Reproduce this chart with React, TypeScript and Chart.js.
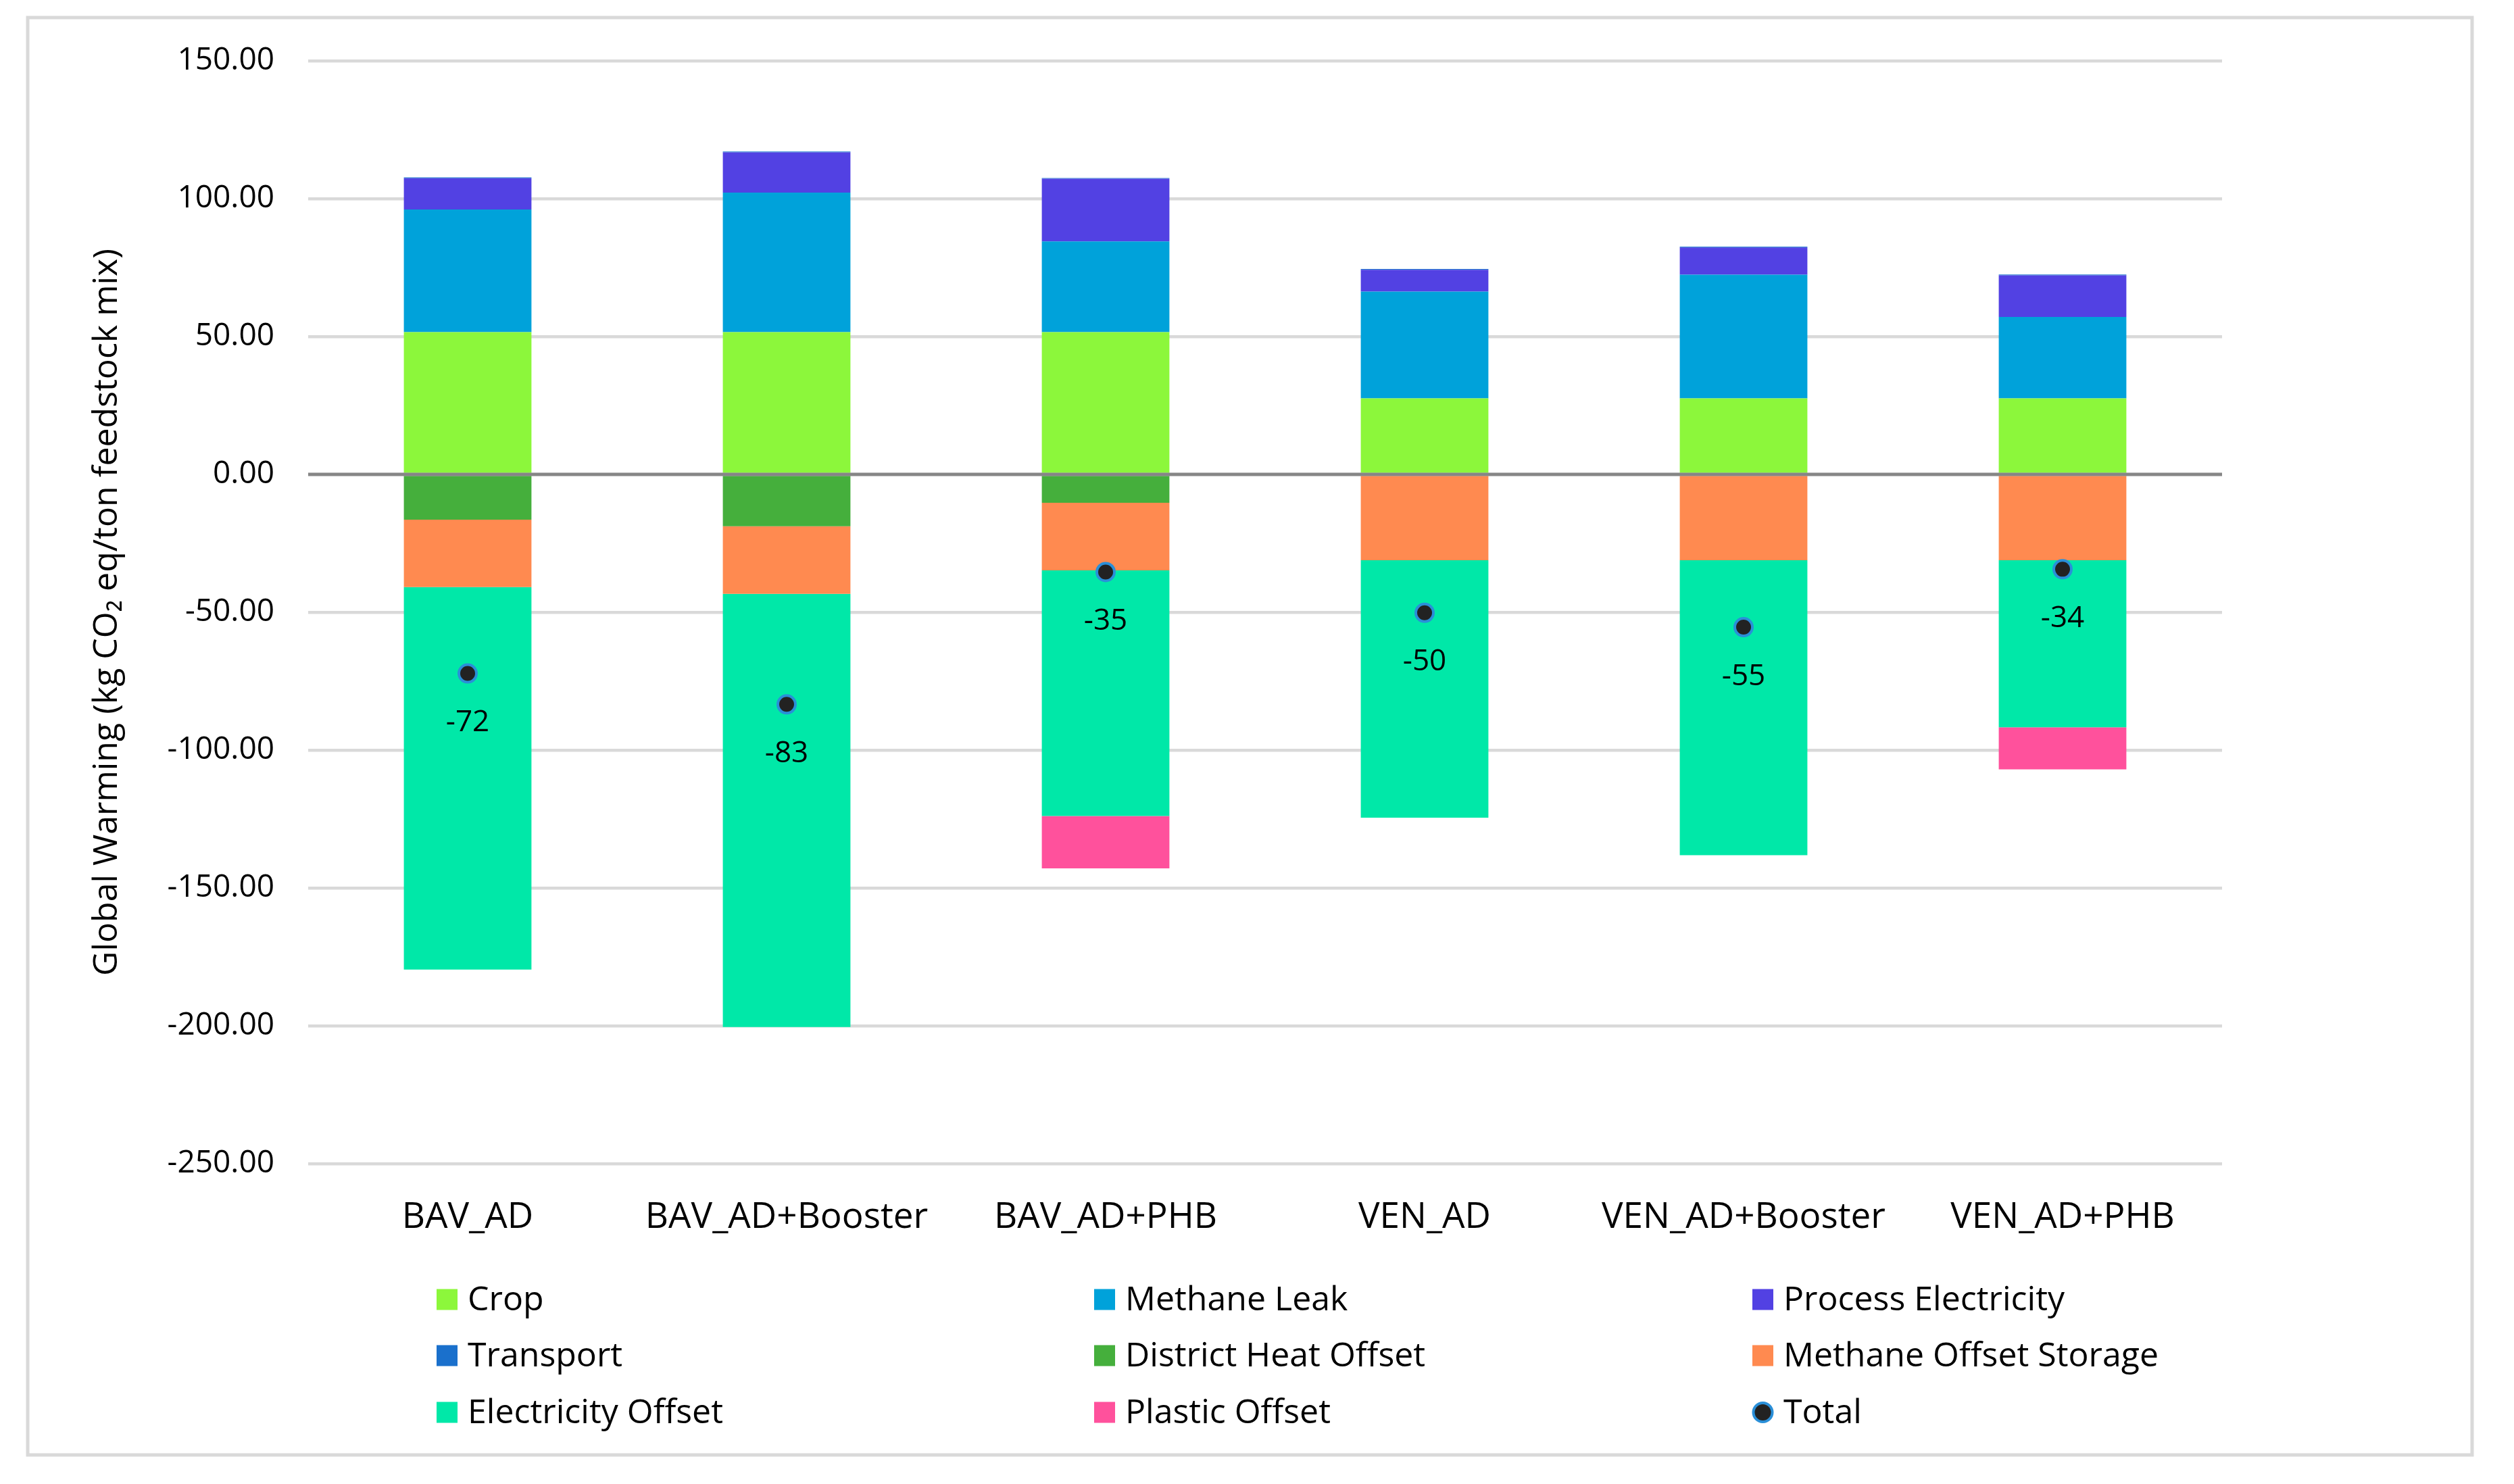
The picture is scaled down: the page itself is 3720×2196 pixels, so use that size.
import { useEffect, useRef } from "react";
import { Chart, registerables } from "chart.js";

Chart.register(...registerables);

const categories = ["BAV_AD", "BAV_AD+Booster", "BAV_AD+PHB", "VEN_AD", "VEN_AD+Booster", "VEN_AD+PHB"];
const crop = [51.6, 51.6, 51.6, 27.6, 27.6, 27.6];
const methaneLeak = [44.5, 50.6, 32.9, 38.7, 44.8, 29.5];
const processElectricity = [11.3, 14.6, 22.7, 7.9, 9.9, 15.1];
const transport = [0.3, 0.3, 0.3, 0.3, 0.3, 0.3];
const districtHeatOffset = [-16.4, -18.8, -10.3, 0, 0, 0];
const methaneOffsetStorage = [-24.5, -24.5, -24.5, -31.1, -31.1, -31.1];
const electricityOffset = [-138.7, -157.1, -89.1, -93.4, -107.0, -60.6];
const plasticOffset = [0, 0, -19.0, 0, 0, -15.3];
const total = [-72.2, -83.4, -35.4, -50.2, -55.4, -34.4];

const yMin = -250;
const yMax = 150;
const yStep = 50;
const yTitle = "Global Warming (kg CO\u2082 eq/ton feedstock mix)";

const FONT = "'Open Sans', 'Noto Sans', 'DejaVu Sans', sans-serif";
const W = 3720;
const H = 2196;

const framePlugin = {
  id: "frame",
  beforeDraw(chart: any) {
    const c = chart.ctx;
    c.save();
    c.fillStyle = "#ffffff";
    c.fillRect(0, 0, chart.width, chart.height);
    c.strokeStyle = "#D9D9D9";
    c.lineWidth = 5;
    c.strokeRect(41, 26, 3617, 2127);
    c.restore();
  },
};

const zeroLinePlugin = {
  id: "zeroLine",
  afterDatasetsDraw(chart: any) {
    const c = chart.ctx;
    const y = chart.scales.y.getPixelForValue(0);
    const { left, right } = chart.chartArea;
    c.save();
    c.strokeStyle = "#868686";
    c.lineWidth = 5;
    c.beginPath();
    c.moveTo(left, y);
    c.lineTo(right, y);
    c.stroke();
    c.restore();
  },
};

const totalLabelPlugin = {
  id: "totalLabels",
  afterDatasetsDraw(chart: any) {
    const idx = chart.data.datasets.findIndex((d: any) => d.label === "Total");
    const meta = chart.getDatasetMeta(idx);
    const c = chart.ctx;
    c.save();
    c.font = `44px ${FONT}`;
    c.fillStyle = "#000000";
    c.textAlign = "center";
    c.textBaseline = "middle";
    meta.data.forEach((el: any, i: number) => {
      const v = chart.data.datasets[idx].data[i];
      c.fillText(Number(v).toFixed(0), el.x, el.y + 73);
    });
    c.restore();
  },
};

const legendPlugin = {
  id: "gridLegend",
  afterDraw(chart: any) {
    const c = chart.ctx;
    const cols = [646, 1619, 2593];
    const rows = [1923, 2006, 2090];
    const box = 31;
    c.save();
    c.font = `50px ${FONT}`;
    c.textBaseline = "middle";
    c.textAlign = "left";
    chart.data.datasets.forEach((ds: any, i: number) => {
      const x = cols[i % 3];
      const y = rows[Math.floor(i / 3)];
      if (ds.type === "line") {
        c.beginPath();
        c.arc(x + box / 2, y, 14, 0, Math.PI * 2);
        c.fillStyle = ds.pointBackgroundColor;
        c.fill();
        c.lineWidth = 4;
        c.strokeStyle = ds.pointBorderColor;
        c.stroke();
      } else {
        c.fillStyle = ds.backgroundColor;
        c.fillRect(x, y - box / 2, box, box);
      }
      c.fillStyle = "#000000";
      c.fillText(ds.label, x + box + 15, y + 2);
    });
    c.restore();
  },
};

export default function App() {
  const ref = useRef<HTMLCanvasElement | null>(null);

  useEffect(() => {
    if (!ref.current) return;
    Chart.defaults.font.family = FONT;
    const bar = (label: string, data: number[], color: string) => ({
      type: "bar" as const,
      label,
      data,
      backgroundColor: color,
      borderWidth: 0,
      stack: "parts",
      order: 1,
      categoryPercentage: 0.5,
      barPercentage: 0.8,
    });
    const chart = new Chart(ref.current, {
      type: "bar",
      data: {
        labels: categories,
        datasets: [
          bar("Crop", crop, "#8CF73B"),
          bar("Methane Leak", methaneLeak, "#00A2DA"),
          bar("Process Electricity", processElectricity, "#5241E3"),
          bar("Transport", transport, "#1A70CC"),
          bar("District Heat Offset", districtHeatOffset, "#45AF3C"),
          bar("Methane Offset Storage", methaneOffsetStorage, "#FF8A50"),
          bar("Electricity Offset", electricityOffset, "#00E8A8"),
          bar("Plastic Offset", plasticOffset, "#FF519C"),
          {
            type: "line" as const,
            label: "Total",
            data: total,
            showLine: false,
            stack: "total",
            order: 0,
            pointRadius: 13,
            pointBorderWidth: 4,
            pointBackgroundColor: "#222222",
            pointBorderColor: "#2A8FD8",
            backgroundColor: "#222222",
            borderColor: "#2A8FD8",
          } as any,
        ],
      },
      options: {
        responsive: false,
        devicePixelRatio: 1,
        animation: false,
        layout: { padding: { top: 90, right: 432, bottom: 0, left: 0 } },
        plugins: {
          legend: { display: false },
          tooltip: { enabled: false },
        },
        scales: {
          x: {
            stacked: true,
            grid: { display: false },
            border: { display: false },
            ticks: { font: { size: 53, family: FONT }, color: "#000000", padding: 40 },
            afterFit(s: any) {
              s.height = 474;
            },
          },
          y: {
            stacked: true,
            min: yMin,
            max: yMax,
            border: { display: false },
            grid: {
              color: (ctx: any) => (ctx.tick && ctx.tick.value === 0 ? "rgba(0,0,0,0)" : "#D9D9D9"),
              lineWidth: 4.5,
              drawTicks: false,
            },
            ticks: {
              stepSize: yStep,
              callback: (v: any) => Number(v).toFixed(2),
              font: { size: 46, family: FONT },
              color: "#000000",
              padding: 50,
            },
            title: {
              display: true,
              text: yTitle,
              font: { size: 50, family: FONT },
              color: "#000000",
              padding: { top: 129, bottom: 0 },
            },
            afterFit(s: any) {
              s.width = 456;
            },
          },
        },
      } as any,
      plugins: [framePlugin, zeroLinePlugin, totalLabelPlugin, legendPlugin],
    });
    return () => chart.destroy();
  }, []);

  return (
    <div style={{ position: "fixed", left: 0, top: 0, width: W, height: H, background: "#fff" }}>
      <canvas ref={ref} width={W} height={H} style={{ display: "block", width: W, height: H }} />
    </div>
  );
}
